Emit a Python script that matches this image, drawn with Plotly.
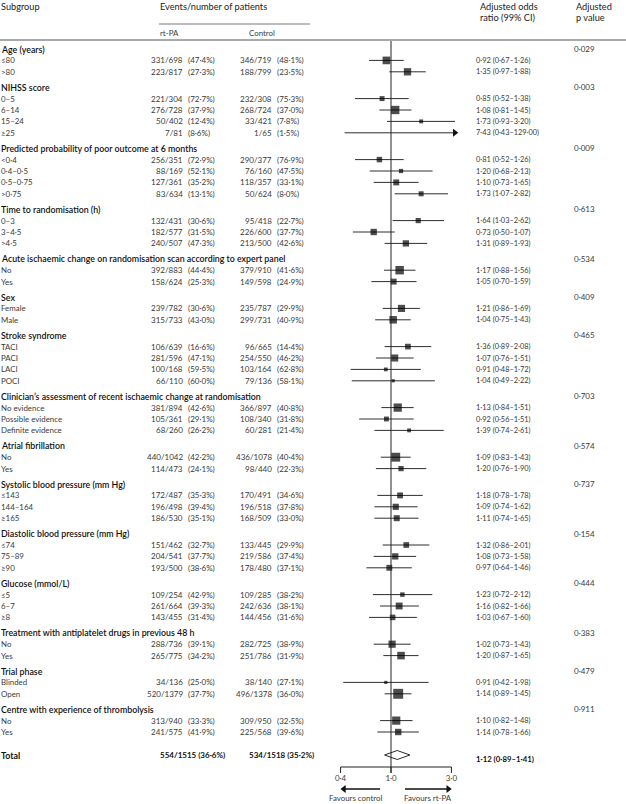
import math
import plotly.graph_objects as go

# ---- data ----
group_names = [
    "Age (years)",
    "NIHSS score",
    "Predicted probability of poor outcome at 6 months",
    "Time to randomisation (h)",
    "Acute ischaemic change on randomisation scan according to expert panel",
    "Sex",
    "Stroke syndrome",
    "Clinician\u2019s assessment of recent ischaemic change at randomisation",
    "Atrial fibrillation",
    "Systolic blood pressure (mm Hg)",
    "Diastolic blood pressure (mm Hg)",
    "Glucose (mmol/L)",
    "Treatment with antiplatelet drugs in previous 48 h",
    "Trial phase",
    "Centre with experience of thrombolysis",
]
group_p = [0.029, 0.003, 0.009, 0.613, 0.534, 0.409, 0.465, 0.703,
           0.574, 0.737, 0.154, 0.444, 0.383, 0.479, 0.911]
group_counts = [2, 4, 4, 3, 2, 2, 4, 3, 2, 3, 3, 3, 2, 2, 2]

sub_labels = [
    "\u226480", ">80",
    "0\u20135", "6\u201314", "15\u201324", "\u226525",
    "<0\u00b74", "0\u00b74\u20130\u00b75", "0\u00b75\u20130\u00b775", ">0\u00b775",
    "0\u20133", "3\u20134\u00b75", ">4\u00b75",
    "No", "Yes",
    "Female", "Male",
    "TACI", "PACI", "LACI", "POCI",
    "No evidence", "Possible evidence", "Definite evidence",
    "No", "Yes",
    "\u2264143", "144\u2013164", "\u2265165",
    "\u226474", "75\u201389", "\u226590",
    "\u22645", "6\u20137", "\u22658",
    "No", "Yes",
    "Blinded", "Open",
    "No", "Yes",
]
rtpa_events = [331, 223, 221, 276, 50, 7, 256, 88, 127, 83, 132, 182, 240, 392, 158,
               239, 315, 106, 281, 100, 66, 381, 105, 68, 440, 114, 172, 196, 186,
               151, 204, 193, 109, 261, 143, 288, 265, 34, 520, 313, 241]
rtpa_total = [698, 817, 304, 728, 402, 81, 351, 169, 361, 634, 431, 577, 507, 883, 624,
              782, 733, 639, 596, 168, 110, 894, 361, 260, 1042, 473, 487, 498, 530,
              462, 541, 500, 254, 664, 455, 736, 775, 136, 1379, 940, 575]
ctrl_events = [346, 188, 232, 268, 33, 1, 290, 76, 118, 50, 95, 226, 213, 379, 149,
               235, 299, 96, 254, 103, 79, 366, 108, 60, 436, 98, 170, 196, 168,
               133, 219, 178, 109, 242, 144, 282, 251, 38, 496, 309, 225]
ctrl_total = [719, 799, 308, 724, 421, 65, 377, 160, 357, 624, 418, 600, 500, 910, 598,
              787, 731, 665, 550, 164, 136, 897, 340, 281, 1078, 440, 491, 518, 509,
              445, 586, 480, 285, 636, 456, 725, 786, 140, 1378, 950, 568]
odds = [0.92, 1.35, 0.85, 1.08, 1.73, 7.43, 0.81, 1.20, 1.10, 1.73, 1.64, 0.73, 1.31,
        1.17, 1.05, 1.21, 1.04, 1.36, 1.07, 0.91, 1.04, 1.13, 0.92, 1.39, 1.09, 1.20,
        1.18, 1.09, 1.11, 1.32, 1.08, 0.97, 1.23, 1.16, 1.03, 1.02, 1.20, 0.91, 1.14,
        1.10, 1.14]
ci_low = [0.67, 0.97, 0.52, 0.81, 0.93, 0.43, 0.52, 0.68, 0.73, 1.07, 1.03, 0.50, 0.89,
          0.88, 0.70, 0.86, 0.75, 0.89, 0.76, 0.48, 0.49, 0.84, 0.56, 0.74, 0.83, 0.76,
          0.78, 0.74, 0.74, 0.86, 0.73, 0.64, 0.72, 0.82, 0.67, 0.73, 0.87, 0.42, 0.89,
          0.82, 0.78]
ci_high = [1.26, 1.88, 1.38, 1.45, 3.20, 129.00, 1.26, 2.13, 1.65, 2.82, 2.62, 1.07, 1.93,
           1.56, 1.59, 1.69, 1.43, 2.08, 1.51, 1.72, 2.22, 1.51, 1.51, 2.61, 1.43, 1.90,
           1.78, 1.62, 1.65, 2.01, 1.58, 1.46, 2.12, 1.66, 1.60, 1.43, 1.65, 1.98, 1.45,
           1.48, 1.66]

total_events = [554, 534]
total_n = [1515, 1518]
total_or = 1.12
total_low = 0.89
total_high = 1.41

axis_ticks = [0.4, 1.0, 3.0]

# ---- layout constants (pixels) ----
W, H = 626, 804
X_ONE = 391          # pixel column of OR = 1
PX_LN = 55           # pixels per natural-log unit
X_CLIP = 3.3         # CIs beyond this are drawn as arrows
Y_FIRST, ROW, GAP, TOTAL_GAP = 49, 11.4, 15.4, 23
FONT = "Lato, 'Open Sans', sans-serif"
FS_COL = 9.2     # column headings
FS_HEAD = 8.8    # group headings
FS_LAB = 7.9     # subgroup labels
FS_NUM = 8.0     # event counts
FS_OR = 7.4      # odds ratio text
C_TEXT = "#3a3a3a"
C_HEAD = "#111111"

log_px = PX_LN * math.log(10)
x_range = [-X_ONE / log_px, (W - X_ONE) / log_px]


def dot(v, d=2):
    return f"{v:.{d}f}".replace(".", "\u00b7")


def pct(e, n):
    return "(" + dot(100 * e / n, 1) + "%)"


annotations = []


def txt(xpx, y, s, size, anchor="left", color=C_TEXT, weight="normal"):
    annotations.append(dict(
        x=xpx / W, xref="paper", y=y, yref="y", text=s, showarrow=False,
        xanchor=anchor, yanchor="middle", borderpad=0,
        font=dict(family=FONT, size=size, color=color, weight=weight)))


# ---- row positions ----
header_y = []
row_y = []
y = Y_FIRST
for g, cnt in enumerate(group_counts):
    if g > 0:
        y += GAP
    header_y.append(y)
    for _ in range(cnt):
        y += ROW
        row_y.append(y)
total_y = y + TOTAL_GAP

# ---- column headers ----
txt(0, 6, "Subgroup", FS_COL, color="#222")
txt(159, 6, "Events/number of patients", FS_COL, color="#222")
txt(159, 33, "rt-PA", FS_LAB)
txt(248, 33, "Control", FS_LAB)
txt(479, 6, "Adjusted odds", FS_COL, color="#222")
txt(479, 17, "ratio (99% CI)", FS_COL, color="#222")
txt(575, 6, "Adjusted", FS_COL, color="#222")
txt(575, 17, "p value", FS_COL, color="#222")

# ---- group headers and p values ----
for name, p, hy in zip(group_names, group_p, header_y):
    txt(0, hy, name, FS_HEAD, color=C_HEAD, weight=600)
    txt(573, hy, dot(p, 3), FS_NUM)

# ---- subgroup rows ----
for i, ry in enumerate(row_y):
    txt(0, ry, sub_labels[i], FS_LAB)
    txt(184, ry, f"{rtpa_events[i]}/{rtpa_total[i]}", FS_NUM, anchor="right")
    txt(187, ry, pct(rtpa_events[i], rtpa_total[i]), FS_NUM)
    txt(273, ry, f"{ctrl_events[i]}/{ctrl_total[i]}", FS_NUM, anchor="right")
    txt(276, ry, pct(ctrl_events[i], ctrl_total[i]), FS_NUM)
    txt(475, ry, f"{dot(odds[i])} ({dot(ci_low[i])}\u2013{dot(ci_high[i])})", FS_OR)

# ---- total row ----
txt(0, total_y, "Total", FS_HEAD, color=C_HEAD, weight="bold")
txt(159, total_y, f"{total_events[0]}/{total_n[0]} {pct(total_events[0], total_n[0])}",
    FS_NUM, color=C_HEAD, weight="bold")
txt(248, total_y, f"{total_events[1]}/{total_n[1]} {pct(total_events[1], total_n[1])}",
    FS_NUM, color=C_HEAD, weight="bold")
txt(475, total_y + 4, f"{dot(total_or)} ({dot(total_low)}\u2013{dot(total_high)})",
    FS_OR + 0.4, color=C_HEAD, weight="bold")

fig = go.Figure()

# CI lines (clipped with arrows where they run off the scale)
lx, ly, ax_, ay_ = [], [], [], []
sq_x, sq_y, sq_s = [], [], []
z99 = 2.5758
for i, ry in enumerate(row_y):
    hi = min(ci_high[i], X_CLIP)
    lx += [ci_low[i], hi, None]
    ly += [ry, ry, None]
    if ci_high[i] > X_CLIP:
        ax_.append(X_CLIP / 1.035)
        ay_.append(ry)
    if odds[i] <= X_CLIP:
        se = math.log(ci_high[i] / ci_low[i]) / (2 * z99)
        sq_x.append(odds[i])
        sq_y.append(ry)
        sq_s.append(0.94 / se)

fig.add_trace(go.Scatter(x=lx, y=ly, mode="lines",
                         line=dict(color="#2e2e2e", width=1), hoverinfo="skip"))
fig.add_trace(go.Scatter(x=ax_, y=ay_, mode="markers",
                         marker=dict(symbol="triangle-right", size=7, color="#111"),
                         hoverinfo="skip"))
fig.add_trace(go.Scatter(x=sq_x, y=sq_y, mode="markers",
                         marker=dict(symbol="square", size=sq_s, color="#000",
                                     line=dict(width=0)),
                         hoverinfo="skip"))

# total diamond
fig.add_trace(go.Scatter(
    x=[total_low, total_or, total_high, total_or, total_low],
    y=[total_y, total_y - 4.5, total_y, total_y + 4.5, total_y],
    mode="lines", fill="toself", fillcolor="white",
    line=dict(color="#111", width=0.9), hoverinfo="skip"))

# axis
axis_y = 767
fig.add_trace(go.Scatter(x=[axis_ticks[0], axis_ticks[-1]], y=[axis_y, axis_y], mode="lines",
                         line=dict(color="#222", width=1), hoverinfo="skip"))
tx, ty = [], []
for t in axis_ticks:
    tx += [t, t, None]
    ty += [axis_y, axis_y + 6, None]
fig.add_trace(go.Scatter(x=tx, y=ty, mode="lines", line=dict(color="#222", width=1),
                         hoverinfo="skip"))
fig.add_trace(go.Scatter(x=axis_ticks, y=[779] * len(axis_ticks), mode="text",
                         text=[dot(t, 1) for t in axis_ticks],
                         textfont=dict(family=FONT, size=FS_LAB, color=C_TEXT),
                         hoverinfo="skip"))

# reference line at OR = 1
fig.add_trace(go.Scatter(x=[1, 1], y=[41, axis_y + 6], mode="lines",
                         line=dict(color="#222", width=1), hoverinfo="skip"))

# favours arrows
arrow_y = 789
fig.add_trace(go.Scatter(x=[0.43, 0.82, None, 1.29, 2.8], y=[arrow_y, arrow_y, None, arrow_y, arrow_y],
                         mode="lines", line=dict(color="#111", width=1.6), hoverinfo="skip"))
fig.add_trace(go.Scatter(x=[0.425, 2.83], y=[arrow_y, arrow_y], mode="markers",
                         marker=dict(symbol=["triangle-left", "triangle-right"], size=7, color="#111"),
                         hoverinfo="skip"))
txt(355, 798, "Favours control", FS_LAB, anchor="center")
txt(428, 798, "Favours rt-PA", FS_LAB, anchor="center")

shapes = [
    dict(type="line", xref="paper", yref="y", x0=0, x1=1, y0=40, y1=40,
         line=dict(color="#555", width=1)),
    dict(type="line", xref="paper", yref="y", x0=159 / W, x1=310 / W, y0=24, y1=24,
         line=dict(color="#555", width=0.8)),
]

fig.update_layout(
    width=W, height=H, autosize=False,
    margin=dict(l=0, r=0, t=0, b=0, pad=0),
    paper_bgcolor="white", plot_bgcolor="white",
    showlegend=False, hovermode=False,
    font=dict(family=FONT, size=FS_LAB, color=C_TEXT),
    xaxis=dict(type="log", range=x_range, visible=False, fixedrange=True),
    yaxis=dict(range=[H, 0], visible=False, fixedrange=True),
    annotations=annotations, shapes=shapes,
)

# drop the page's default body margin so the 626x804 figure fills the window
fig.write_html("out.html", config={"displayModeBar": False},
               post_script="document.body.style.margin='0';")
